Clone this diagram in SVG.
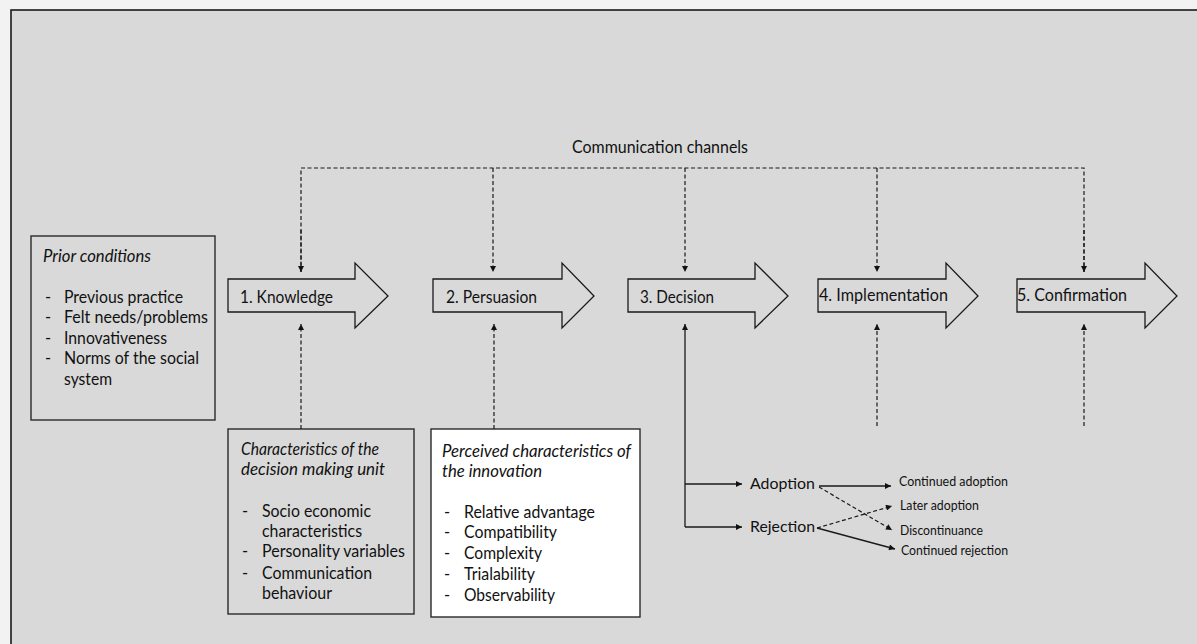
<svg xmlns="http://www.w3.org/2000/svg" width="1197" height="644" viewBox="0 0 1197 644">
  <style>
    text { font-family: Lato, "Open Sans", "Liberation Sans", sans-serif; fill: #111; }
    .stage { font-size: 17px; }
    .body { font-size: 16.5px; }
    .it { font-style: italic; }
    .small { font-size: 13px; }
    .mid { font-size: 16px; }
    .box { stroke: #2a2a2a; stroke-width: 1.4; }
    .arrow { fill: #d9d9d9; stroke: #1a1a1a; stroke-width: 1.3; }
    .dash { fill: none; stroke: #1a1a1a; stroke-width: 1.2; stroke-dasharray: 4 2.5; }
    .solid { fill: none; stroke: #1a1a1a; stroke-width: 1.3; }
  </style>
  <defs>
    <marker id="tip" viewBox="0 0 10 10" refX="10" refY="5" markerWidth="7" markerHeight="6" markerUnits="userSpaceOnUse" orient="auto">
      <path d="M0,0 L10,5 L0,10 Z" fill="#111"/>
    </marker>
  </defs>

  <!-- page and frame -->
  <rect x="0" y="0" width="1197" height="644" fill="#f2f2f2"/>
  <rect x="11" y="10" width="1200" height="650" fill="#d9d9d9" stroke="#1a1a1a" stroke-width="1.6"/>

  <text class="stage" x="572" y="153" textLength="176" lengthAdjust="spacingAndGlyphs">Communication channels</text>

  <!-- prior conditions -->
  <g id="prior">
    <rect class="box" x="31" y="236" width="184" height="184" fill="#d9d9d9"/>
    <text class="body it" x="43" y="262" textLength="108" lengthAdjust="spacingAndGlyphs">Prior conditions</text>
    <text class="body" x="45" y="303">-</text>
    <text class="body" x="64" y="303" textLength="119" lengthAdjust="spacingAndGlyphs">Previous practice</text>
    <text class="body" x="45" y="323">-</text>
    <text class="body" x="64" y="323" textLength="144" lengthAdjust="spacingAndGlyphs">Felt needs/problems</text>
    <text class="body" x="45" y="344">-</text>
    <text class="body" x="64" y="344" textLength="103" lengthAdjust="spacingAndGlyphs">Innovativeness</text>
    <text class="body" x="45" y="364">-</text>
    <text class="body" x="64" y="364" textLength="135" lengthAdjust="spacingAndGlyphs">Norms of the social</text>
    <text class="body" x="64" y="385" textLength="48" lengthAdjust="spacingAndGlyphs">system</text>
  </g>

  <!-- stages -->
  <g id="knowledge">
    <path class="arrow" d="M228,279 H355 V263 L388,296 L355,328 V312 H228 Z"/>
    <text class="stage" x="240" y="303" textLength="93" lengthAdjust="spacingAndGlyphs">1. Knowledge</text>
  </g>
  <g id="persuasion">
    <path class="arrow" d="M433,279 H562 V263 L594,296 L562,328 V312 H433 Z"/>
    <text class="stage" x="446" y="303" textLength="91" lengthAdjust="spacingAndGlyphs">2. Persuasion</text>
  </g>
  <g id="decision">
    <path class="arrow" d="M628,279 H755 V263 L788,296 L755,328 V312 H628 Z"/>
    <text class="stage" x="640" y="303" textLength="74" lengthAdjust="spacingAndGlyphs">3. Decision</text>
  </g>
  <g id="implementation">
    <path class="arrow" d="M818,279 H946 V263 L978,296 L946,328 V312 H818 Z"/>
    <text class="stage" x="819" y="301" textLength="129" lengthAdjust="spacingAndGlyphs">4. Implementation</text>
  </g>
  <g id="confirmation">
    <path class="arrow" d="M1017,279 H1145 V263 L1177,296 L1145,328 V312 H1017 Z"/>
    <text class="stage" x="1017" y="301" textLength="110" lengthAdjust="spacingAndGlyphs">5. Confirmation</text>
  </g>

  <!-- decision making unit -->
  <g id="unit">
    <rect class="box" x="228" y="429" width="186" height="185" fill="#d9d9d9"/>
    <text class="body it" x="241" y="455" textLength="138" lengthAdjust="spacingAndGlyphs">Characteristics of the</text>
    <text class="body it" x="241" y="475" textLength="144" lengthAdjust="spacingAndGlyphs">decision making unit</text>
    <text class="body" x="242" y="517">-</text>
    <text class="body" x="262" y="517" textLength="109" lengthAdjust="spacingAndGlyphs">Socio economic</text>
    <text class="body" x="262" y="537" textLength="100" lengthAdjust="spacingAndGlyphs">characteristics</text>
    <text class="body" x="242" y="557">-</text>
    <text class="body" x="262" y="557" textLength="143" lengthAdjust="spacingAndGlyphs">Personality variables</text>
    <text class="body" x="242" y="579">-</text>
    <text class="body" x="262" y="579" textLength="110" lengthAdjust="spacingAndGlyphs">Communication</text>
    <text class="body" x="262" y="599" textLength="70" lengthAdjust="spacingAndGlyphs">behaviour</text>
  </g>

  <!-- innovation characteristics -->
  <g id="innovation">
    <rect class="box" x="431" y="429" width="209" height="188" fill="#ffffff"/>
    <text class="body it" x="442" y="457" textLength="189" lengthAdjust="spacingAndGlyphs">Perceived characteristics of</text>
    <text class="body it" x="442" y="477" textLength="100" lengthAdjust="spacingAndGlyphs">the innovation</text>
    <text class="body" x="444" y="518">-</text>
    <text class="body" x="464" y="518" textLength="131" lengthAdjust="spacingAndGlyphs">Relative advantage</text>
    <text class="body" x="444" y="538">-</text>
    <text class="body" x="464" y="538" textLength="93" lengthAdjust="spacingAndGlyphs">Compatibility</text>
    <text class="body" x="444" y="559">-</text>
    <text class="body" x="464" y="559" textLength="78" lengthAdjust="spacingAndGlyphs">Complexity</text>
    <text class="body" x="444" y="580">-</text>
    <text class="body" x="464" y="580" textLength="71" lengthAdjust="spacingAndGlyphs">Trialability</text>
    <text class="body" x="444" y="601">-</text>
    <text class="body" x="464" y="601" textLength="91" lengthAdjust="spacingAndGlyphs">Observability</text>
  </g>

  <!-- outcomes -->
  <g id="adoption">
    <text class="mid" x="750" y="489" textLength="65" lengthAdjust="spacingAndGlyphs">Adoption</text>
  </g>
  <g id="rejection">
    <text class="mid" x="750" y="532" textLength="65" lengthAdjust="spacingAndGlyphs">Rejection</text>
  </g>
  <g id="continued-adoption">
    <text class="small" x="899" y="486" textLength="109" lengthAdjust="spacingAndGlyphs">Continued adoption</text>
  </g>
  <g id="later-adoption">
    <text class="small" x="900" y="510" textLength="79" lengthAdjust="spacingAndGlyphs">Later adoption</text>
  </g>
  <g id="discontinuance">
    <text class="small" x="900" y="535" textLength="83" lengthAdjust="spacingAndGlyphs">Discontinuance</text>
  </g>
  <g id="continued-rejection">
    <text class="small" x="901" y="555" textLength="107" lengthAdjust="spacingAndGlyphs">Continued rejection</text>
  </g>

  <!-- connectors -->
  <g id="connectors">
    <path class="dash" d="M301,272 V168 H1084 V272"/>
    <path class="dash" d="M493,168 V272" marker-end="url(#tip)"/>
    <path class="dash" d="M685,168 V272" marker-end="url(#tip)"/>
    <path class="dash" d="M877,168 V272" marker-end="url(#tip)"/>
    <path class="dash" d="M301,230 V272" marker-end="url(#tip)"/>
    <path class="dash" d="M1084,230 V272" marker-end="url(#tip)"/>

    <path class="dash" d="M301,429 V324" marker-end="url(#tip)"/>
    <path class="dash" d="M494,429 V324" marker-end="url(#tip)"/>
    <path class="dash" d="M877,426 V324" marker-end="url(#tip)"/>
    <path class="dash" d="M1084,426 V324" marker-end="url(#tip)"/>

    <path class="solid" d="M685,527 V324" marker-end="url(#tip)"/>
    <path class="solid" d="M685,484 H742" marker-end="url(#tip)"/>
    <path class="solid" d="M685,527 H742" marker-end="url(#tip)"/>

    <path class="solid" d="M819,486 H891" marker-end="url(#tip)"/>
    <path class="dash" d="M819,487 L892,530" marker-end="url(#tip)"/>
    <path class="dash" d="M817,528 L892,506" marker-end="url(#tip)"/>
    <path class="solid" d="M817,528 L895,549" marker-end="url(#tip)"/>
  </g>
</svg>
